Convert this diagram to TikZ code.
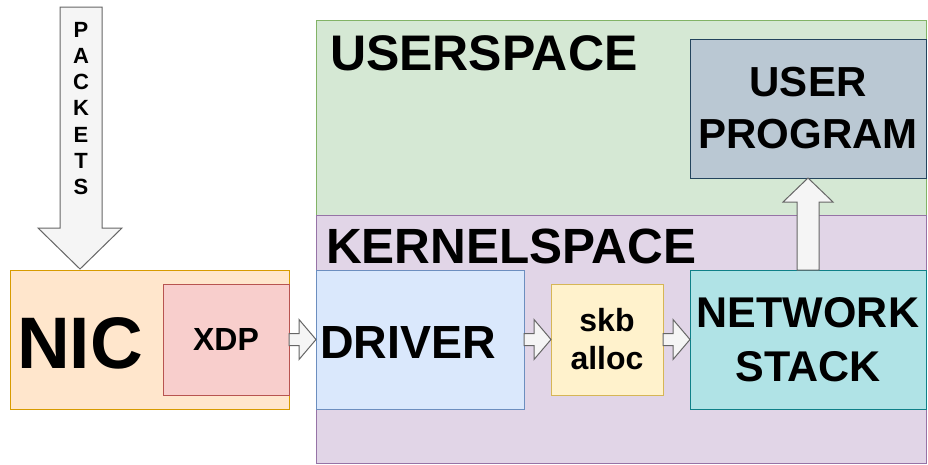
\documentclass[tikz,border=0pt]{standalone}
\usepackage{fontspec}
\setmainfont{Liberation Sans}
\usetikzlibrary{positioning,calc}
\definecolor{usrfill}{HTML}{D5E8D4}\definecolor{usrline}{HTML}{82B366}
\definecolor{krnfill}{HTML}{E1D5E7}\definecolor{krnline}{HTML}{9673A6}
\definecolor{progfill}{HTML}{BAC8D3}\definecolor{progline}{HTML}{23445D}
\definecolor{nicfill}{HTML}{FFE6CC}\definecolor{nicline}{HTML}{D79B00}
\definecolor{xdpfill}{HTML}{F8CECC}\definecolor{xdpline}{HTML}{B85450}
\definecolor{drvfill}{HTML}{DAE8FC}\definecolor{drvline}{HTML}{6C8EBF}
\definecolor{skbfill}{HTML}{FFF2CC}\definecolor{skbline}{HTML}{D6B656}
\definecolor{netfill}{HTML}{B0E3E6}\definecolor{netline}{HTML}{0E8088}
\definecolor{arrfill}{HTML}{F5F5F5}\definecolor{arrline}{HTML}{666666}
\begin{document}
\begin{tikzpicture}[x=1pt,y=-1pt,
  box/.style={draw,line width=1pt,inner sep=0pt,outer sep=0pt,anchor=north west,align=center},
  lbl/.style={inner sep=0pt,outer sep=0pt,anchor=base west},
  barrow/.style={draw=arrline,fill=arrfill,line width=1pt}]
\newcommand\hblock[2]{
\draw[barrow] ($(#1.east)+(0,-6)$) -- ($(#2.west)+(-17,-6)$) -- ($(#2.west)+(-17,-20)$) -- (#2.west)
  -- ($(#2.west)+(-17,20)$) -- ($(#2.west)+(-17,6)$) -- ($(#1.east)+(0,6)$) -- cycle;
}
\useasboundingbox[fill=white] (0,0) rectangle (928,464);
\node[box,fill=usrfill,draw=usrline,minimum width=610,minimum height=195] (usr) at (316,20) {};
\node[box,fill=krnfill,draw=krnline,minimum width=610,minimum height=248] (krn) at (316,215) {};
\node[lbl,font=\bfseries\fontsize{50}{60}\selectfont] (usrtxt) at (330,70) {USERSPACE};
\node[lbl,font=\bfseries\fontsize{49.5}{60}\selectfont] (krntxt) at (326,263) {KERNELSPACE};
\node[box,fill=progfill,draw=progline,minimum width=236,minimum height=139,
  font=\bfseries\fontsize{42}{52}\selectfont] (prog) at (690,39) {USER\\PROGRAM};
\node[box,fill=nicfill,draw=nicline,minimum width=279,minimum height=139] (nic) at (10,270) {};
\node[lbl,font=\bfseries\fontsize{73}{88}\selectfont] (nictxt) at (17,368) {NIC};
\node[box,fill=xdpfill,draw=xdpline,minimum width=126,minimum height=111,
  font=\bfseries\fontsize{32}{38}\selectfont] (xdp) at (163,284) {XDP};
\node[box,fill=drvfill,draw=drvline,minimum width=208,minimum height=139] (drv) at (316,270) {};
\node[lbl,font=\bfseries\fontsize{46.5}{55}\selectfont] (drvtxt) at (320,358) {DRIVER};
\node[box,fill=skbfill,draw=skbline,minimum width=112,minimum height=111,
  font=\bfseries\fontsize{32}{38}\selectfont] (skb) at (551,284) {skb\\alloc};
\node[box,fill=netfill,draw=netline,minimum width=236,minimum height=139,
  font=\bfseries\fontsize{43}{54}\selectfont] (net) at (690,270) {NETWORK\\STACK};
\hblock{xdp}{drv}
\hblock{drv}{skb}
\hblock{skb}{net}
\draw[barrow] ($(net.north)+(-11,0)$) -- ($(prog.south)+(-11,24)$) -- ($(prog.south)+(-25,24)$) -- (prog.south)
  -- ($(prog.south)+(25,24)$) -- ($(prog.south)+(11,24)$) -- ($(net.north)+(11,0)$) -- cycle;
\coordinate (pktop) at (81,7);
\coordinate (pktip) at (80,269);
\draw[barrow] ($(pktop)+(-21,0)$) -- ($(pktip)+(-20,-41)$) -- ($(pktip)+(-42,-41)$) -- (pktip)
  -- ($(pktip)+(42,-41)$) -- ($(pktip)+(22,-41)$) -- ($(pktop)+(21,0)$) -- cycle;
\foreach \l [count=\i] in {P,A,C,K,E,T,S}
  \node[inner sep=0pt,font=\bfseries\fontsize{22}{26}\selectfont] (pk\i) at (81,{29.5+26.3*(\i-1)}) {\l};
\end{tikzpicture}
\end{document}
